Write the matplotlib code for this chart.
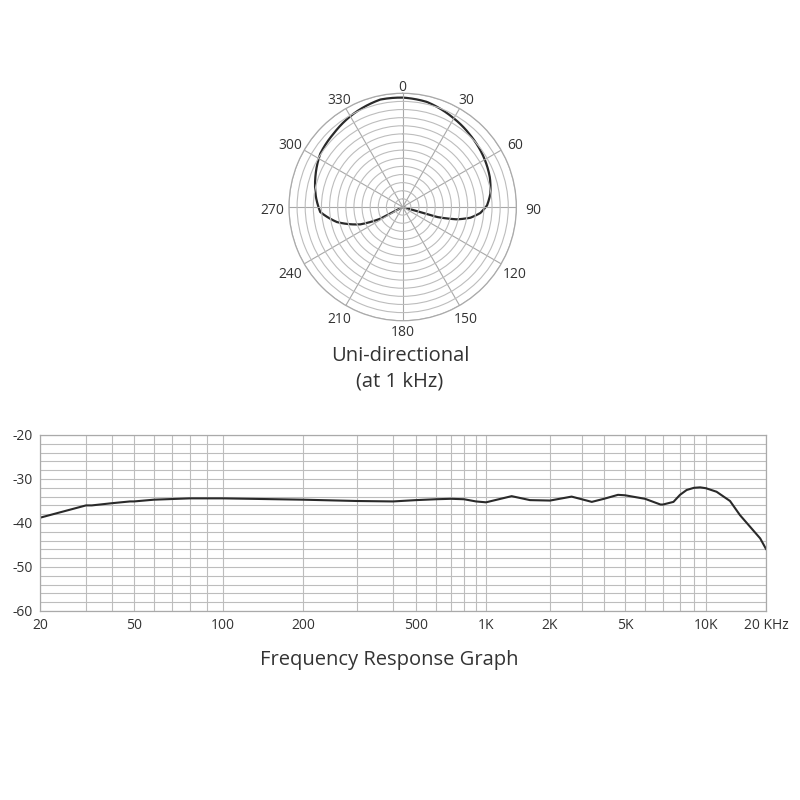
import numpy as np
import matplotlib.pyplot as plt
from matplotlib.path import Path
from matplotlib.patches import PathPatch
from matplotlib.transforms import offset_copy

# polar pattern (angle clockwise from 0, radius as a fraction of the outer ring)
pol_ang = [106, 105.8, 106.2, 102.8, 99.0, 94.4, 88.9, 81.4, 71.0, 58.3, 43.4,
           28.7, 13.0, 0.0, -11.8, -27.7, -43.3, -57.1, -71.0, -83.4, -93.5,
           -102.9, -112.3, -117.6, -118]
pol_r = [0.0, 0.162, 0.315, 0.490, 0.603, 0.685, 0.742, 0.780, 0.810, 0.837, 0.867,
         0.903, 0.948, 0.962, 0.965, 0.927, 0.886, 0.863, 0.812, 0.768, 0.726,
         0.593, 0.402, 0.222, 0.0]
pol_labels = ['0', '30', '60', '90', '120', '150', '180', '210', '240', '270', '300', '330']

# frequency response
freq = [20, 30, 32, 40, 48, 50, 60, 80, 100, 200, 300, 400, 500, 600, 700, 800,
        900, 1000, 1320, 1610, 2000, 2630, 3410, 4000, 4640, 5000, 6000, 6850,
        7000, 7600, 8000, 8460, 9000, 9500, 10000, 11300, 13200, 14800, 16600,
        18700, 20000]
level = [-38.8, -36.0, -36.0, -35.5, -35.1, -35.1, -34.7, -34.4, -34.4, -34.7,
         -35.0, -35.1, -34.8, -34.6, -34.5, -34.6, -35.1, -35.3, -33.9, -34.8,
         -34.9, -34.0, -35.2, -34.5, -33.6, -33.7, -34.5, -35.8, -35.8, -35.2,
         -33.6, -32.5, -32.0, -31.9, -32.1, -32.9, -35.0, -38.2, -40.8, -43.5,
         -45.9]

xtick_vals = [20, 50, 100, 200, 500, 1000, 2000, 5000, 10000, 20000]
xtick_text = ['20', '50', '100', '200', '500', '1K', '2K', '5K', '10K', '20 KHz']
ytick_vals = [-60, -50, -40, -30, -20]
ytick_text = ['-60', '-50', '-40', '-30', '-20']
grid_freqs = [20, 30, 40, 50, 60, 70, 80, 90, 100, 200, 300, 400, 500, 600, 700,
              800, 900, 1000, 2000, 3000, 4000, 5000, 6000, 7000, 8000, 9000,
              10000, 20000]

# the printed log axis is not evenly spaced: offsets of its gridlines
grid_px = [40, 86, 112, 134, 154, 172, 190, 207, 223, 303, 357, 393, 416, 436, 451,
           464, 476, 486, 550, 582, 604, 625, 645, 663, 680, 694, 706, 766]

plt.rcParams['font.family'] = ['Open Sans', 'DejaVu Sans']
txt = '#333333'
gcol = '#bdbdbd'

fig = plt.figure(figsize=(8, 8), dpi=100)

# ---- polar plot ----
axp = fig.add_axes([0.3612, 0.5991, 0.2843, 0.2843], projection='polar')
axp.set_theta_zero_location('N')
axp.set_theta_direction(-1)
# path patch so the segments follow the polar grid (arcs/spirals, not chords)
pts = np.column_stack([np.radians(pol_ang), pol_r])
axp.add_patch(PathPatch(Path(pts, _interpolation_steps=30), fill=False,
                        edgecolor='#2a2a2a', lw=1.6))
axp.set_ylim(0, 1)
axp.set_rticks(np.arange(1, 15) / 14)
axp.set_yticklabels([])
angles = np.arange(0, 360, 30)
axp.set_thetagrids(angles, labels=[''] * len(angles))
lab_tr = offset_copy(axp.transData, fig=fig, y=-3, units='dots')
for a, lab in zip(angles, pol_labels):
    th = np.radians(a)
    axp.text(th, 1.075 + 0.075 * abs(np.sin(th)), lab, ha='center', va='center',
             fontsize=10, color=txt, clip_on=False, transform=lab_tr)
axp.grid(color=gcol, lw=0.8)
axp.xaxis.grid(color='#a8a8a8', lw=0.8)
axp.spines['polar'].set_color('#aaaaaa')
axp.spines['polar'].set_linewidth(0.9)

fig.text(0.501, 0.555, 'Uni-directional', ha='center', va='center', fontsize=14.5, color=txt)
fig.text(0.5, 0.523, '(at 1 kHz)', ha='center', va='center', fontsize=14.5, color=txt)

# ---- frequency response ----
lk = np.log10(grid_freqs)
pk = np.array(grid_px, dtype=float)


def fwd(f):
    return np.interp(np.log10(np.clip(f, 1e-9, None)), lk, pk)


def inv(p):
    return 10 ** np.interp(p, pk, lk)


ax = fig.add_axes([0.05, 0.23625, 0.9075, 0.22])
ax.set_xscale('function', functions=(fwd, inv))
ax.plot(freq, level, color='#2a2a2a', lw=1.5)
ax.set_xlim(20, 20000)
ax.set_ylim(-60, -20)
ax.set_xticks(xtick_vals)
ax.set_xticklabels(xtick_text)
ax.set_xticks(grid_freqs, minor=True)
ax.set_yticks(ytick_vals)
ax.set_yticklabels(ytick_text)
ax.set_yticks(np.arange(-60, -19, 2), minor=True)
ax.grid(which='both', color=gcol, lw=0.8)
ax.tick_params(which='both', length=0, labelsize=10, colors=txt)
ax.tick_params(axis='x', pad=5)
ax.tick_params(axis='y', pad=5)
for s in ax.spines.values():
    s.set_color('#aaaaaa')
    s.set_linewidth(0.9)

fig.text(0.486, 0.175, 'Frequency Response Graph', ha='center', va='center', fontsize=14.5, color=txt)

fig.savefig('out.png', dpi=100)
